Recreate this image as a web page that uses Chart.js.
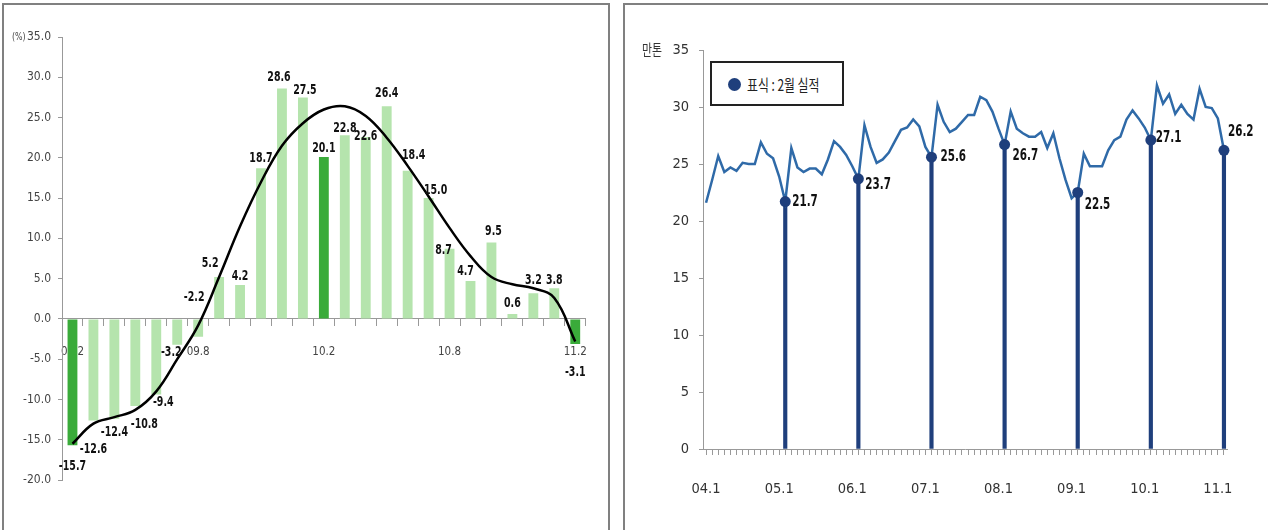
<!DOCTYPE html>
<html>
<head>
<meta charset="utf-8">
<script src="https://cdn.jsdelivr.net/npm/chart.js@4.4.1/dist/chart.umd.min.js"></script>
<style>
    body { margin: 0; width: 1268px; height: 530px; overflow: hidden; position: relative; background: #fff; }
    .panel { position: absolute; border: 2px solid #808080; box-sizing: border-box; }
    #panelLeft  { left: 2px;   top: 3px; width: 608px; height: 545px; }
    #panelRight { left: 623px; top: 3px; width: 660px; height: 545px; }
    canvas { position: absolute; }
    #growthChart   { left: 6px;   top: 6px; }
    #shipmentChart { left: 627px; top: 6px; }
    #legendBox {
        position: absolute; left: 710px; top: 61px; width: 134px; height: 45px;
        border: 2px solid #222; box-sizing: border-box; background: #fff;
    }
    #legendBox .dot {
        position: absolute; left: 16px; top: 15px; width: 13px; height: 13px;
        border-radius: 50%; background: #1f3f7c;
    }
    #legendBox .txt {
        position: absolute; left: 35px; top: 9px; white-space: nowrap;
        font: 16px "Noto Sans CJK KR", sans-serif; color: #222;
        transform: scaleX(0.74); transform-origin: left center;
    }
</style>
</head>
<body>
<div class="panel" id="panelLeft"></div>
<div class="panel" id="panelRight"></div>
<canvas id="growthChart" width="600" height="524"></canvas>
<canvas id="shipmentChart" width="641" height="524"></canvas>
<div id="legendBox"><span class="dot"></span><span class="txt">표식 : 2월 실적</span></div>

<script>
// ---- left chart: year-on-year change (%) ----
const growthMonths = ['09.2', '09.3', '09.4', '09.5', '09.6', '09.7', '09.8', '09.9', '09.10', '09.11', '09.12',
    '10.1', '10.2', '10.3', '10.4', '10.5', '10.6', '10.7', '10.8', '10.9', '10.10', '10.11', '10.12', '11.1', '11.2'];
const growthTicks = ['09.2', '09.8', '10.2', '10.8', '11.2'];
const growthValues = [-15.7, -12.6, -12.4, -10.8, -9.4, -3.2, -2.2, 5.2, 4.2, 18.7, 28.6,
    27.5, 20.1, 22.8, 22.6, 26.4, 18.4, 15.0, 8.7, 4.7, 9.5, 0.6, 3.2, 3.8, -3.1];
const growthTrend = [-15.5, -13.0, -12.2, -11.3, -9.0, -5.0, -0.8, 5.2, 11.5, 17.0, 21.5,
    24.3, 26.0, 26.4, 25.2, 22.5, 19.0, 15.2, 11.3, 7.8, 5.2, 4.3, 3.8, 2.6, -2.8];

// ---- right chart: monthly volume (만톤), 04.1 .. 11.2 ----
const shipYears = ['04', '05', '06', '07', '08', '09', '10', '11'];
const shipTicks = ['04.1', '05.1', '06.1', '07.1', '08.1', '09.1', '10.1', '11.1'];
const shipMarked = ['05.2', '06.2', '07.2', '08.2', '09.2', '10.2', '11.2'];
const shipValues = [
    21.6, 23.6, 25.7, 24.3, 24.7, 24.4, 25.1, 25.0, 25.0, 26.9, 25.9, 25.5,
    23.9, 21.7, 26.4, 24.7, 24.3, 24.6, 24.6, 24.1, 25.4, 27.0, 26.5, 25.8,
    24.8, 23.7, 28.4, 26.5, 25.1, 25.4, 26.0, 27.0, 28.0, 28.2, 28.9, 28.3,
    26.5, 25.6, 30.2, 28.7, 27.8, 28.1, 28.7, 29.3, 29.3, 30.9, 30.6, 29.6,
    28.1, 26.7, 29.6, 28.1, 27.7, 27.4, 27.4, 27.8, 26.4, 27.7, 25.5, 23.6,
    22.0, 22.5, 25.9, 24.8, 24.8, 24.8, 26.2, 27.1, 27.4, 28.9, 29.7, 29.0,
    28.2, 27.1, 31.9, 30.3, 31.1, 29.4, 30.2, 29.4, 28.9, 31.6, 30.0, 29.9,
    29.0, 26.2
];

const shipMonths = [];
shipYears.forEach(y => { for (let m = 1; m <= 12; m++) shipMonths.push(y + '.' + m); });
shipMonths.length = shipValues.length;

const NUM_FONT = '"DejaVu Sans Condensed", "Liberation Sans", sans-serif';

// draw text squeezed horizontally, the original uses a narrow face
function narrowText (ctx, text, x, y, sx) {
    ctx.save();
    ctx.translate(x, y);
    ctx.scale(sx, 1);
    ctx.fillText(text, 0, 0);
    ctx.restore();
}

// label nudges for the left chart (dx, dy), as placed in the original
const growthLabelShift = [[0, 10], [0, 18], [0, 3], [9, 7], [7, -3], [-6, -3], [-4, -50], [-9, -3], [0, 2],
    [0, 1], [-3, 0], [2, 4], [0, 2], [0, 4], [0, 10], [0, -2], [6, -4], [7, 3], [-6, 13], [-5, 1], [2, 0],
    [0, 0], [0, -2], [0, 3], [0, 17]];

const growthLabels = {
    id: 'growthLabels',
    afterDatasetsDraw (chart) {
        const ctx = chart.ctx;
        const meta = chart.getDatasetMeta(0);
        ctx.save();
        ctx.font = 'bold 14px ' + NUM_FONT;
        ctx.fillStyle = '#111';
        ctx.textAlign = 'center';
        ctx.textBaseline = 'middle';
        meta.data.forEach((bar, i) => {
            const v = growthValues[i];
            const [dx, dy] = growthLabelShift[i];
            const y = v >= 0 ? bar.y - 11 : bar.y + 11;
            narrowText(ctx, v.toFixed(1), bar.x + dx, y + dy, 0.75);
        });
        // unit next to the top tick
        ctx.font = '11px ' + NUM_FONT;
        ctx.fillStyle = '#444';
        ctx.textAlign = 'left';
        narrowText(ctx, '(%)', 6, chart.scales.y.getPixelForValue(35), 0.8);
        ctx.restore();
    }
};

new Chart(document.getElementById('growthChart').getContext('2d'), {
    type: 'bar',
    data: {
        labels: growthMonths,
        datasets: [{
            type: 'bar',
            data: growthValues,
            backgroundColor: growthMonths.map(m => m.endsWith('.2') ? '#3aab3a' : '#b5e4ad'),
            barPercentage: 0.47,
            categoryPercentage: 1,
            order: 1
        }, {
            type: 'line',
            data: growthTrend,
            borderColor: '#000',
            borderWidth: 2.5,
            pointRadius: 0,
            tension: 0.4,
            order: 0
        }]
    },
    options: {
        responsive: false,
        animation: false,
        layout: { padding: { left: 0, top: 31, right: 12, bottom: 50 } },
        plugins: { legend: { display: false }, tooltip: { enabled: false } },
        scales: {
            x: {
                position: { y: 0 },
                offset: true,
                grid: { offset: true, drawOnChartArea: false, tickLength: 7, color: '#999' },
                border: { color: '#999' },
                ticks: {
                    autoSkip: false, maxRotation: 0, padding: 19,
                    color: '#444', font: { family: NUM_FONT, size: 11.5 },
                    callback (val) {
                        const l = this.getLabelForValue(val);
                        return growthTicks.includes(l) ? l : '';
                    }
                }
            },
            y: {
                min: -20, max: 35,
                afterFit (s) { s.width = 56; },
                grid: { drawOnChartArea: false, tickLength: 4, color: '#999' },
                border: { color: '#999' },
                ticks: {
                    stepSize: 5, padding: 7, color: '#444',
                    font: { family: NUM_FONT, size: 12 },
                    callback: v => v.toFixed(1)
                }
            }
        }
    },
    plugins: [growthLabels]
});

// ---- right chart ----
const markedIdx = shipMonths.map((m, i) => shipMarked.includes(m) ? i : -1).filter(i => i >= 0);
const labelShift = { '05.2': [7, 0], '06.2': [7, 6], '07.2': [9, 0], '08.2': [8, 11],
    '09.2': [7, 12], '10.2': [5, -2], '11.2': [4, -18] };

const shipLabels = {
    id: 'shipLabels',
    afterDatasetsDraw (chart) {
        const ctx = chart.ctx;
        const meta = chart.getDatasetMeta(0);
        ctx.save();
        ctx.font = 'bold 16px ' + NUM_FONT;
        ctx.fillStyle = '#111';
        ctx.textAlign = 'left';
        ctx.textBaseline = 'middle';
        markedIdx.forEach(i => {
            const p = meta.data[i];
            const [dx, dy] = labelShift[shipMonths[i]];
            narrowText(ctx, shipValues[i].toFixed(1), p.x + dx, p.y + dy, 0.72);
        });
        // unit label
        ctx.font = '16px "Noto Sans CJK KR", sans-serif';
        ctx.fillStyle = '#333';
        narrowText(ctx, '만톤', 15, chart.scales.y.getPixelForValue(35), 0.68);
        ctx.restore();
    }
};

new Chart(document.getElementById('shipmentChart').getContext('2d'), {
    type: 'bar',
    data: {
        labels: shipMonths,
        datasets: [{
            type: 'line',
            data: shipValues,
            borderColor: '#2f6aa8',
            borderWidth: 2.5,
            tension: 0,
            pointRadius: ctx => markedIdx.includes(ctx.dataIndex) ? 5.5 : 0,
            pointBackgroundColor: '#1f3f7c',
            pointBorderWidth: 0,
            order: 0
        }, {
            type: 'bar',
            data: shipValues.map((v, i) => markedIdx.includes(i) ? v : null),
            backgroundColor: '#1f3f7c',
            barThickness: 3.5,
            order: 1
        }]
    },
    options: {
        responsive: false,
        animation: false,
        layout: { padding: { left: 0, top: 44, right: 41, bottom: 0 } },
        plugins: { legend: { display: false }, tooltip: { enabled: false } },
        scales: {
            x: {
                offset: true,
                afterFit (s) { s.height = 81; },
                grid: { offset: false, drawOnChartArea: false, tickLength: 6, color: '#999' },
                border: { color: '#999' },
                ticks: {
                    autoSkip: false, maxRotation: 0, padding: 26,
                    color: '#333', font: { family: NUM_FONT, size: 14.5 },
                    callback (val) {
                        const l = this.getLabelForValue(val);
                        return shipTicks.includes(l) ? l : '';
                    }
                }
            },
            y: {
                min: 0, max: 35,
                afterFit (s) { s.width = 76; },
                grid: { drawOnChartArea: false, tickLength: 4, color: '#999' },
                border: { color: '#999' },
                ticks: { stepSize: 5, padding: 10, color: '#333', font: { family: NUM_FONT, size: 14.5 } }
            }
        }
    },
    plugins: [shipLabels]
});
</script>
</body>
</html>
